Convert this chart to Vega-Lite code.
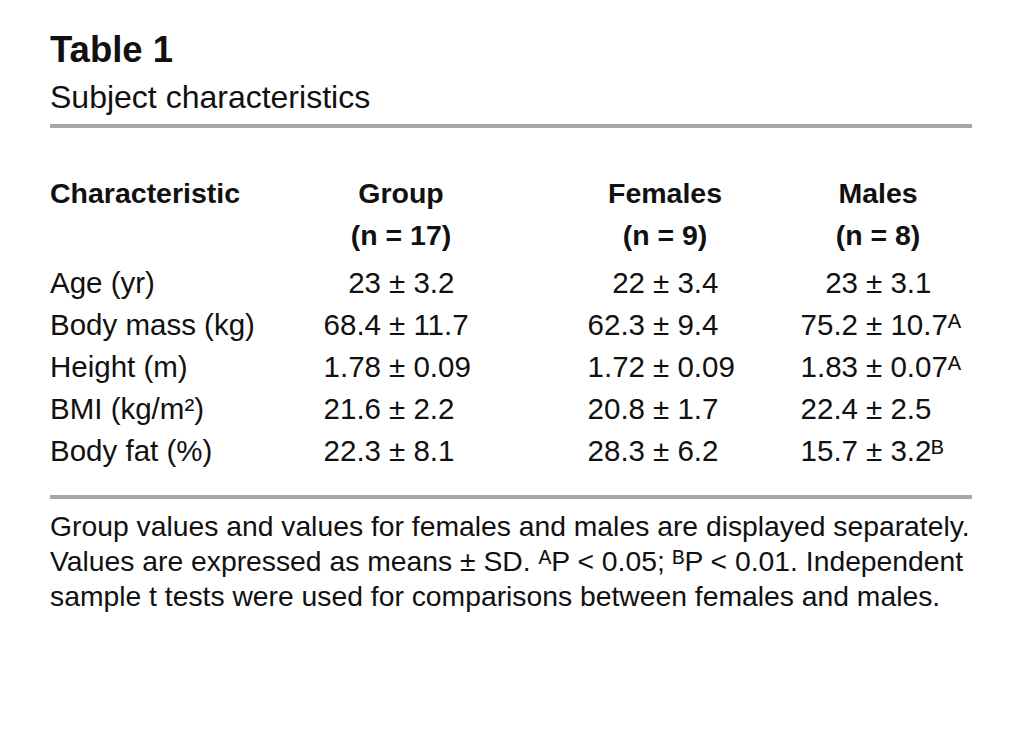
{
  "$schema": "https://vega.github.io/schema/vega-lite/v6.json",
  "background": "white",
  "autosize": {"type": "pad"},
  "padding": {"left": 48, "right": 48, "top": 33, "bottom": 0},
  "title": {
    "text": "Table 1",
    "subtitle": "Subject characteristics",
    "anchor": "start",
    "frame": "group",
    "font": "Liberation Sans, Arial, sans-serif",
    "fontSize": 36.5,
    "fontWeight": "bold",
    "color": "#111111",
    "subtitleFont": "Liberation Sans, Arial, sans-serif",
    "subtitleFontSize": 32,
    "subtitleColor": "#111111",
    "subtitlePadding": 13,
    "offset": 10.5
  },
  "config": {"view": {"stroke": null}, "concat": {"spacing": 0}},
  "datasets": {
    "rules": [{"rule": "top"}, {"rule": "bottom"}],
    "columns": [
      {"column": "Characteristic", "n": ""},
      {"column": "Group", "n": "(n = 17)"},
      {"column": "Females", "n": "(n = 9)"},
      {"column": "Males", "n": "(n = 8)"}
    ],
    "values": [
      {"characteristic": "Age (yr)", "group": "Group", "mean": "23", "sd": "± 3.2"},
      {"characteristic": "Age (yr)", "group": "Females", "mean": "22", "sd": "± 3.4"},
      {"characteristic": "Age (yr)", "group": "Males", "mean": "23", "sd": "± 3.1"},
      {"characteristic": "Body mass (kg)", "group": "Group", "mean": "68.4", "sd": "± 11.7"},
      {"characteristic": "Body mass (kg)", "group": "Females", "mean": "62.3", "sd": "± 9.4"},
      {"characteristic": "Body mass (kg)", "group": "Males", "mean": "75.2", "sd": "± 10.7ᴬ"},
      {"characteristic": "Height (m)", "group": "Group", "mean": "1.78", "sd": "± 0.09"},
      {"characteristic": "Height (m)", "group": "Females", "mean": "1.72", "sd": "± 0.09"},
      {"characteristic": "Height (m)", "group": "Males", "mean": "1.83", "sd": "± 0.07ᴬ"},
      {"characteristic": "BMI (kg/m²)", "group": "Group", "mean": "21.6", "sd": "± 2.2"},
      {"characteristic": "BMI (kg/m²)", "group": "Females", "mean": "20.8", "sd": "± 1.7"},
      {"characteristic": "BMI (kg/m²)", "group": "Males", "mean": "22.4", "sd": "± 2.5"},
      {"characteristic": "Body fat (%)", "group": "Group", "mean": "22.3", "sd": "± 8.1"},
      {"characteristic": "Body fat (%)", "group": "Females", "mean": "28.3", "sd": "± 6.2"},
      {"characteristic": "Body fat (%)", "group": "Males", "mean": "15.7", "sd": "± 3.2ᴮ"}
    ],
    "notes": [
      {"line": 1, "text": "Group values and values for females and males are displayed separately."},
      {"line": 2, "text": "Values are expressed as means ± SD. ᴬP < 0.05; ᴮP < 0.01. Independent"},
      {"line": 3, "text": "sample t tests were used for comparisons between females and males."}
    ]
  },
  "vconcat": [
    {
      "bounds": "flush",
      "hconcat": [
        {
          "width": 206, "height": 371,
          "resolve": {"scale": {"y": "independent"}},
          "layer": [
            {"data": {"name": "rules"}, "mark": {"type": "rule", "color": "#a6a7aa", "strokeWidth": 4},
             "encoding": {"y": {"field": "rule", "type": "nominal", "scale": {"type": "point", "domain": ["top", "bottom"], "padding": 0}, "axis": null}}},
            {"data": {"name": "columns"}, "transform": [{"filter": "datum.column === 'Characteristic'"}],
             "mark": {"type": "text", "font": "Liberation Sans, Arial, sans-serif", "fontSize": 28.5, "fontWeight": "bold", "baseline": "alphabetic", "align": "left", "color": "#111111"},
             "encoding": {"x": {"datum": 0, "type": "quantitative", "scale": {"domain": [0, 1]}, "axis": null},
                          "y": {"datum": "h1", "type": "nominal", "scale": {"type": "point", "domain": ["h1", "h2"], "range": [77, 119], "padding": 0}, "axis": null},
                          "text": {"field": "column"}}},
            {"data": {"name": "values"}, "transform": [{"filter": "datum.group === 'Group'"}],
             "mark": {"type": "text", "font": "Liberation Sans, Arial, sans-serif", "fontSize": 29.5, "baseline": "alphabetic", "align": "left", "color": "#111111"},
             "encoding": {"x": {"datum": 0, "type": "quantitative", "scale": {"domain": [0, 1]}, "axis": null},
                          "y": {"field": "characteristic", "type": "nominal", "scale": {"type": "point", "domain": ["Age (yr)", "Body mass (kg)", "Height (m)", "BMI (kg/m²)", "Body fat (%)"], "range": [167, 335], "padding": 0}, "axis": null},
                          "text": {"field": "characteristic"}}}
          ]
        },
        {
          "width": 290, "height": 371,
          "resolve": {"scale": {"y": "independent"}},
          "layer": [
            {"data": {"name": "rules"}, "mark": {"type": "rule", "color": "#a6a7aa", "strokeWidth": 4},
             "encoding": {"y": {"field": "rule", "type": "nominal", "scale": {"type": "point", "domain": ["top", "bottom"], "padding": 0}, "axis": null}}},
            {"data": {"name": "columns"}, "transform": [{"filter": "datum.column === 'Group'"}],
             "mark": {"type": "text", "font": "Liberation Sans, Arial, sans-serif", "fontSize": 28.5, "fontWeight": "bold", "baseline": "alphabetic", "align": "center", "color": "#111111"},
             "encoding": {"y": {"datum": "h1", "type": "nominal", "scale": {"type": "point", "domain": ["h1", "h2"], "range": [77, 119], "padding": 0}, "axis": null},
                          "text": {"field": "column"}}},
            {"data": {"name": "columns"}, "transform": [{"filter": "datum.column === 'Group'"}],
             "mark": {"type": "text", "font": "Liberation Sans, Arial, sans-serif", "fontSize": 28.5, "fontWeight": "bold", "baseline": "alphabetic", "align": "center", "color": "#111111"},
             "encoding": {"y": {"datum": "h2", "type": "nominal", "scale": {"type": "point", "domain": ["h1", "h2"], "range": [77, 119], "padding": 0}, "axis": null},
                          "text": {"field": "n"}}},
            {"data": {"name": "values"}, "transform": [{"filter": "datum.group === 'Group'"}],
             "mark": {"type": "text", "font": "Liberation Sans, Arial, sans-serif", "fontSize": 29.5, "baseline": "alphabetic", "align": "right", "dx": -20, "color": "#111111"},
             "encoding": {"y": {"field": "characteristic", "type": "nominal", "scale": {"type": "point", "domain": ["Age (yr)", "Body mass (kg)", "Height (m)", "BMI (kg/m²)", "Body fat (%)"], "range": [167, 335], "padding": 0}, "axis": null},
                          "text": {"field": "mean"}}},
            {"data": {"name": "values"}, "transform": [{"filter": "datum.group === 'Group'"}],
             "mark": {"type": "text", "font": "Liberation Sans, Arial, sans-serif", "fontSize": 29.5, "baseline": "alphabetic", "align": "left", "dx": -12, "color": "#111111"},
             "encoding": {"y": {"field": "characteristic", "type": "nominal", "scale": {"type": "point", "domain": ["Age (yr)", "Body mass (kg)", "Height (m)", "BMI (kg/m²)", "Body fat (%)"], "range": [167, 335], "padding": 0}, "axis": null},
                          "text": {"field": "sd"}}}
          ]
        },
        {
          "width": 238, "height": 371,
          "resolve": {"scale": {"y": "independent"}},
          "layer": [
            {"data": {"name": "rules"}, "mark": {"type": "rule", "color": "#a6a7aa", "strokeWidth": 4},
             "encoding": {"y": {"field": "rule", "type": "nominal", "scale": {"type": "point", "domain": ["top", "bottom"], "padding": 0}, "axis": null}}},
            {"data": {"name": "columns"}, "transform": [{"filter": "datum.column === 'Females'"}],
             "mark": {"type": "text", "font": "Liberation Sans, Arial, sans-serif", "fontSize": 28.5, "fontWeight": "bold", "baseline": "alphabetic", "align": "center", "color": "#111111"},
             "encoding": {"y": {"datum": "h1", "type": "nominal", "scale": {"type": "point", "domain": ["h1", "h2"], "range": [77, 119], "padding": 0}, "axis": null},
                          "text": {"field": "column"}}},
            {"data": {"name": "columns"}, "transform": [{"filter": "datum.column === 'Females'"}],
             "mark": {"type": "text", "font": "Liberation Sans, Arial, sans-serif", "fontSize": 28.5, "fontWeight": "bold", "baseline": "alphabetic", "align": "center", "color": "#111111"},
             "encoding": {"y": {"datum": "h2", "type": "nominal", "scale": {"type": "point", "domain": ["h1", "h2"], "range": [77, 119], "padding": 0}, "axis": null},
                          "text": {"field": "n"}}},
            {"data": {"name": "values"}, "transform": [{"filter": "datum.group === 'Females'"}],
             "mark": {"type": "text", "font": "Liberation Sans, Arial, sans-serif", "fontSize": 29.5, "baseline": "alphabetic", "align": "right", "dx": -20, "color": "#111111"},
             "encoding": {"y": {"field": "characteristic", "type": "nominal", "scale": {"type": "point", "domain": ["Age (yr)", "Body mass (kg)", "Height (m)", "BMI (kg/m²)", "Body fat (%)"], "range": [167, 335], "padding": 0}, "axis": null},
                          "text": {"field": "mean"}}},
            {"data": {"name": "values"}, "transform": [{"filter": "datum.group === 'Females'"}],
             "mark": {"type": "text", "font": "Liberation Sans, Arial, sans-serif", "fontSize": 29.5, "baseline": "alphabetic", "align": "left", "dx": -12, "color": "#111111"},
             "encoding": {"y": {"field": "characteristic", "type": "nominal", "scale": {"type": "point", "domain": ["Age (yr)", "Body mass (kg)", "Height (m)", "BMI (kg/m²)", "Body fat (%)"], "range": [167, 335], "padding": 0}, "axis": null},
                          "text": {"field": "sd"}}}
          ]
        },
        {
          "width": 188, "height": 371,
          "resolve": {"scale": {"y": "independent"}},
          "layer": [
            {"data": {"name": "rules"}, "mark": {"type": "rule", "color": "#a6a7aa", "strokeWidth": 4},
             "encoding": {"y": {"field": "rule", "type": "nominal", "scale": {"type": "point", "domain": ["top", "bottom"], "padding": 0}, "axis": null}}},
            {"data": {"name": "columns"}, "transform": [{"filter": "datum.column === 'Males'"}],
             "mark": {"type": "text", "font": "Liberation Sans, Arial, sans-serif", "fontSize": 28.5, "fontWeight": "bold", "baseline": "alphabetic", "align": "center", "color": "#111111"},
             "encoding": {"y": {"datum": "h1", "type": "nominal", "scale": {"type": "point", "domain": ["h1", "h2"], "range": [77, 119], "padding": 0}, "axis": null},
                          "text": {"field": "column"}}},
            {"data": {"name": "columns"}, "transform": [{"filter": "datum.column === 'Males'"}],
             "mark": {"type": "text", "font": "Liberation Sans, Arial, sans-serif", "fontSize": 28.5, "fontWeight": "bold", "baseline": "alphabetic", "align": "center", "color": "#111111"},
             "encoding": {"y": {"datum": "h2", "type": "nominal", "scale": {"type": "point", "domain": ["h1", "h2"], "range": [77, 119], "padding": 0}, "axis": null},
                          "text": {"field": "n"}}},
            {"data": {"name": "values"}, "transform": [{"filter": "datum.group === 'Males'"}],
             "mark": {"type": "text", "font": "Liberation Sans, Arial, sans-serif", "fontSize": 29.5, "baseline": "alphabetic", "align": "right", "dx": -20, "color": "#111111"},
             "encoding": {"y": {"field": "characteristic", "type": "nominal", "scale": {"type": "point", "domain": ["Age (yr)", "Body mass (kg)", "Height (m)", "BMI (kg/m²)", "Body fat (%)"], "range": [167, 335], "padding": 0}, "axis": null},
                          "text": {"field": "mean"}}},
            {"data": {"name": "values"}, "transform": [{"filter": "datum.group === 'Males'"}],
             "mark": {"type": "text", "font": "Liberation Sans, Arial, sans-serif", "fontSize": 29.5, "baseline": "alphabetic", "align": "left", "dx": -12, "color": "#111111"},
             "encoding": {"y": {"field": "characteristic", "type": "nominal", "scale": {"type": "point", "domain": ["Age (yr)", "Body mass (kg)", "Height (m)", "BMI (kg/m²)", "Body fat (%)"], "range": [167, 335], "padding": 0}, "axis": null},
                          "text": {"field": "sd"}}}
          ]
        }
      ]
    },
    {
      "width": 922, "height": 144,
      "data": {"name": "notes"},
      "mark": {"type": "text", "font": "Liberation Sans, Arial, sans-serif", "fontSize": 28.3, "baseline": "alphabetic", "align": "left", "color": "#111111"},
      "encoding": {
        "x": {"datum": 0, "type": "quantitative", "scale": {"domain": [0, 1]}, "axis": null},
        "y": {"field": "line", "type": "ordinal", "scale": {"type": "point", "range": [37, 107], "padding": 0}, "axis": null},
        "text": {"field": "text"}
      }
    }
  ]
}
